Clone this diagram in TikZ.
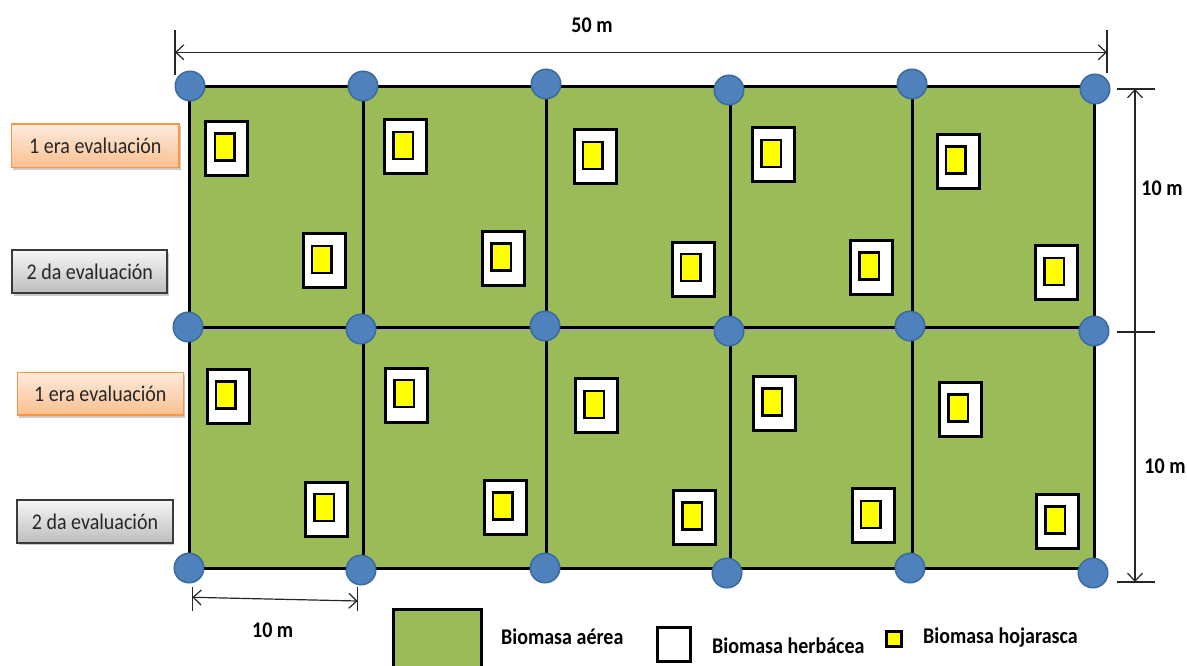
\documentclass[tikz,border=0pt]{standalone}
\usepackage{fontspec}
\setmainfont{Carlito}
\usetikzlibrary{arrows.meta,shadows}
\definecolor{grass}{HTML}{9BBB59}
\definecolor{dotblue}{HTML}{4F81BD}
\definecolor{dotedge}{HTML}{3A6A9F}
\definecolor{orline}{HTML}{F79646}
\definecolor{ortop}{HTML}{FDEBDD}
\definecolor{orbot}{HTML}{FAC090}
\definecolor{gytop}{HTML}{F6F6F6}
\definecolor{gybot}{HTML}{BDBDBD}
\definecolor{gyline}{HTML}{3A3A3A}
\definecolor{yel}{HTML}{FFFF00}
\definecolor{txt}{HTML}{262626}
\newcommand{\vst}[1]{\scalebox{1}[1.12]{#1}}
\begin{document}
\begin{tikzpicture}[x=1pt,y=-1pt,
  gridline/.style={line width=3pt,black},
  stake/.style={circle,fill=dotblue,draw=dotedge,line width=1.5pt,minimum size=29.5pt,inner sep=0pt},
  herb/.style={rectangle,fill=white,draw=black,line width=3pt,minimum width=42pt,minimum height=54pt,inner sep=0pt},
  litter/.style={rectangle,fill=yel,draw=black,line width=2.5pt,minimum width=19.5pt,minimum height=27pt,inner sep=0pt},
  dimline/.style={line width=1.2pt,draw=black!85},
  dimarrow/.style={dimline,{Straight Barb[length=8pt,width=15pt]}-{Straight Barb[length=8pt,width=15pt]}},
  evalbox/.style={rectangle,inner sep=0pt,text=txt,font=\fontsize{20}{22}\selectfont,
     drop shadow={shadow xshift=1.5pt,shadow yshift=-2.5pt,fill=black!45,opacity=0.45}},
  firstbox/.style={evalbox,top color=ortop,bottom color=orbot,draw=orline,line width=1.5pt},
  secondbox/.style={evalbox,top color=gytop,bottom color=gybot,draw=gyline,line width=1.8pt},
  boldlbl/.style={font=\bfseries\fontsize{20}{24}\selectfont,text=black,inner sep=0pt},
]
\useasboundingbox (0,0) rectangle (1187,666);

% grid corner coordinates
\foreach \i/\x in {0/189,1/363,2/546,3/730,4/912,5/1094}
  \foreach \j/\y in {0/87,1/327,2/568}
    \coordinate (g\i\j) at (\x,\y);

\fill[grass] (g00) rectangle (g52);
\draw[line width=3pt,black!35] ([yshift=-2.5pt]g01) -- ([yshift=-2.5pt]g51);
\draw[gridline] (g00) rectangle (g52);
\draw[gridline] (g01) -- (g51);
\foreach \i in {1,...,4} \draw[gridline] (g\i0) -- (g\i2);

% quadrats
\foreach \n/\x/\y in {
  t1a/226.8/148.3, t1b/324.2/260.8, t2a/405.3/147, t2b/503.3/258.7,
  t3a/595.2/157, t3b/693.2/269.2, t4a/773.3/155, t4b/871.3/267.5,
  t5a/958/161.7, t5b/1056.3/272.8,
  b1a/228.2/396.7, b1b/326.5/509.2, b2a/406.7/395, b2b/505/507.5,
  b3a/596.5/405.8, b3b/694.5/517.3, b4a/774.7/403.3, b4b/873/515.8,
  b5a/960.5/409.7, b5b/1057.5/521.7}{
  \node[herb] (h\n) at (\x,\y) {};
  \node[litter] (y\n) at ([xshift=-2.3pt,yshift=1.5pt]h\n.center) {};
}

% stakes
\foreach \n/\x/\y in {
  a0/190/86, a1/363/86, a2/546/84, a3/729/90, a4/912/84, a5/1095/89,
  m0/188/327, m1/361/329, m2/545/326, m3/729/331, m4/910/326, m5/1094/331,
  z0/189/568, z1/361/570, z2/545/568, z3/727/573, z4/910/568, z5/1093/573}
  \node[stake] (s\n) at (\x,\y) {};

% top dimension
\coordinate (ttl) at (175,30); \coordinate (tbl) at (175,75);
\coordinate (ttr) at (1107,30); \coordinate (tbr) at (1107,73);
\coordinate (tal) at (175,52.3); \coordinate (tar) at (1107,52.3);
\draw[dimline] (ttl) -- (tbl);
\draw[dimline] (ttr) -- (tbr);
\draw[dimarrow] (tal) -- (tar);
\node[boldlbl] (l50) at (592,25.7) {\vst{50 m}};

% right dimension
\coordinate (r1a) at (1117,89); \coordinate (r1b) at (1155,89);
\coordinate (r2a) at (1117,332); \coordinate (r2b) at (1155,332);
\coordinate (r3a) at (1117,582); \coordinate (r3b) at (1155,582);
\coordinate (rt) at (1135,89); \coordinate (rb) at (1135,582);
\draw[dimline] (r1a) -- (r1b);
\draw[dimline] (r2a) -- (r2b);
\draw[dimline] (r3a) -- (r3b);
\draw[dimarrow] (rt) -- (rb);
\node[boldlbl] (l10a) at (1162,188) {\vst{10 m}};
\node[boldlbl] (l10b) at (1165,466) {\vst{10 m}};

% bottom dimension
\coordinate (bta) at (192.3,586.7); \coordinate (bba) at (192.3,611);
\coordinate (btb) at (357.7,586.7); \coordinate (bbb) at (357.7,611);
\coordinate (bal) at (192.3,597.3); \coordinate (bar) at (357.7,601);
\draw[dimline] (bta) -- (bba);
\draw[dimline] (btb) -- (bbb);
\draw[dimarrow] (bal) -- (bar);
\node[boldlbl] (l10c) at (272.7,630.7) {\vst{10 m}};

% evaluation labels
\node[firstbox,minimum width=167.3pt,minimum height=43.3pt] (e1) at (95.35,145.65) {\vst{1 era evaluación}};
\node[secondbox,minimum width=155pt,minimum height=43.3pt] (e2) at (89.8,271.65) {\vst{2 da evaluación}};
\node[firstbox,minimum width=166pt,minimum height=42.7pt] (e3) at (100.3,393.65) {\vst{1 era evaluación}};
\node[secondbox,minimum width=155.4pt,minimum height=42.7pt] (e4) at (95,521.35) {\vst{2 da evaluación}};

% legend
\draw[fill=grass,line width=3pt] (393,609) rectangle (481,672);
\node[boldlbl,anchor=west] (lg1) at (501,637) {\vst{Biomasa aérea}};
\node[rectangle,fill=white,draw=black,line width=3pt,minimum width=33pt,minimum height=34.5pt,inner sep=0pt] (lgw) at (674.3,644.3) {};
\node[boldlbl,anchor=west] (lg2) at (712,645.5) {\vst{Biomasa herbácea}};
\node[rectangle,fill=yel,draw=black,line width=3pt,minimum width=15.5pt,minimum height=15pt,inner sep=0pt] (lgy) at (894.2,639) {};
\node[boldlbl,anchor=west] (lg3) at (923,638) {\vst{Biomasa hojarasca}};
\end{tikzpicture}
\end{document}
